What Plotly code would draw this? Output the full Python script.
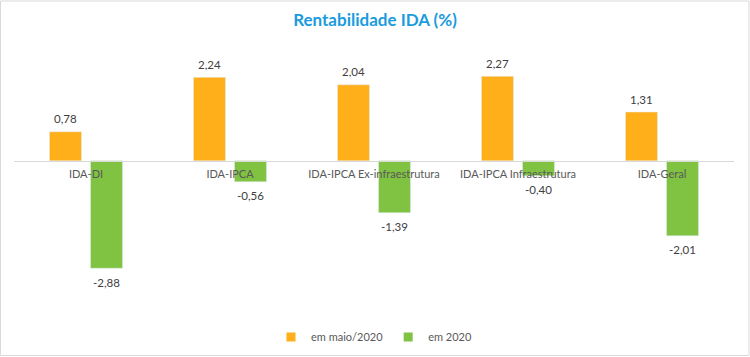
import plotly.graph_objects as go

categories = ["IDA-DI", "IDA-IPCA", "IDA-IPCA Ex-infraestrutura", "IDA-IPCA Infraestrutura", "IDA-Geral"]
maio_2020 = [0.78, 2.24, 2.04, 2.27, 1.31]
ano_2020 = [-2.88, -0.56, -1.39, -0.40, -2.01]
series_names = ["em maio/2020", "em 2020"]

ORANGE = "#FFAF1A"
GREEN = "#80C242"
FONT = "Lato, 'Open Sans', sans-serif"

fig = go.Figure()
for vals, name, color in [(maio_2020, series_names[0], ORANGE), (ano_2020, series_names[1], GREEN)]:
    fig.add_trace(go.Bar(x=categories, y=vals, name=name, marker_color=color, showlegend=False))
for name, color in [(series_names[0], ORANGE), (series_names[1], GREEN)]:
    fig.add_trace(go.Scatter(x=[None], y=[None], mode="markers", name=name,
                             marker=dict(symbol="square", size=9, color=color)))

annotations = []
for vals, dx in [(maio_2020, -20.5), (ano_2020, 20.5)]:
    for cat, v in zip(categories, vals):
        annotations.append(dict(x=cat, y=v, xref="x", yref="y", text=f"{v:.2f}".replace(".", ","),
                                showarrow=False, xshift=dx, yshift=13 if v >= 0 else -14,
                                xanchor="center", yanchor="middle",
                                font=dict(size=11.5, color="#404040", family=FONT)))

fig.update_layout(
    width=750, height=357,
    margin=dict(l=14, r=16, t=49, b=47, autoexpand=False),
    paper_bgcolor="white", plot_bgcolor="white",
    barmode="group", bargap=0.43, bargroupgap=0.22,
    font=dict(family=FONT, size=12, color="#595959"),
    title=dict(text="<b>Rentabilidade IDA (%)</b>", x=0.5, xanchor="center", y=0.945, yanchor="middle",
               font=dict(family=FONT, size=17, color="#1B9BDD")),
    legend=dict(orientation="h", x=0.5, xanchor="center", yref="container", y=1 - 337/357, yanchor="middle",
                font=dict(size=11, color="#595959"), itemwidth=30, traceorder="normal"),
    xaxis=dict(anchor="free", position=4/7, showline=True, linecolor="#D9D9D9", linewidth=1, automargin=False,
               ticks="", ticklabelstandoff=3, tickfont=dict(size=11, color="#595959"), showgrid=False),
    yaxis=dict(range=[-4, 3], visible=False, showgrid=False, zeroline=False, automargin=False),
    annotations=annotations,
    shapes=[dict(type="rect", xref="paper", yref="paper",
                 x0=-13.5/720, x1=(720+15)/720, y0=-45.5/261, y1=(261+48)/261,
                 line=dict(color="#D9D9D9", width=1), fillcolor="rgba(0,0,0,0)", layer="below")],
)

fig.write_html("out.html", config={"displayModeBar": False},
               post_script="document.body.style.margin='0';document.body.style.overflow='hidden';")
